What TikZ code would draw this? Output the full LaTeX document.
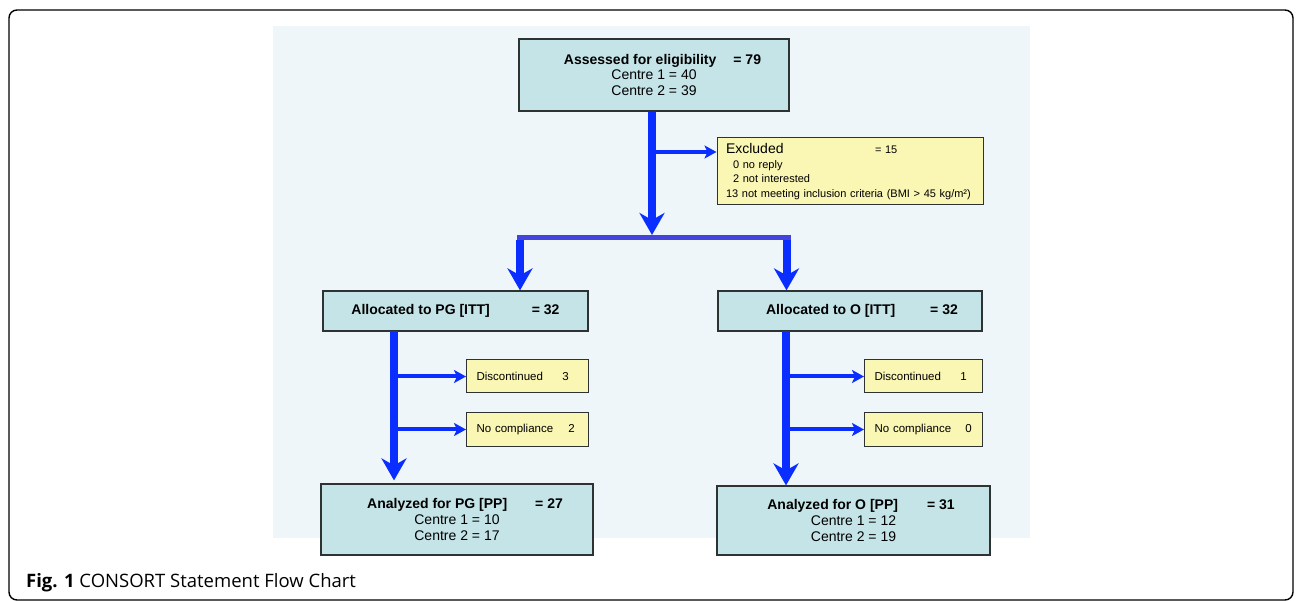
\documentclass[tikz,border=0pt]{standalone}
\usepackage{fontspec}
\setmainfont{Liberation Sans}
\newfontfamily\captionfont{Open Sans}
\usetikzlibrary{arrows.meta}
\definecolor{boxteal}{RGB}{197,228,232}
\definecolor{boxyellow}{RGB}{250,246,180}
\definecolor{boxline}{RGB}{45,50,50}
\definecolor{panelblue}{RGB}{239,246,249}
\definecolor{flowblue}{RGB}{10,46,255}
\definecolor{barblue}{RGB}{68,68,221}
\begin{document}
\begin{tikzpicture}
[x=1pt,y=-1pt,
 tealbox/.style={shape=rectangle,draw=boxline,line width=1.2pt,fill=boxteal,inner sep=0pt,align=center,font=\fontsize{14}{16}\selectfont},%
 notebox/.style={shape=rectangle,draw=boxline,line width=1pt,fill=boxyellow,inner ysep=0pt,inner xsep=10pt,align=left,font=\fontsize{11.5}{13}\selectfont},%
 mainline/.style={draw=flowblue,line width=8pt,-{Stealth[length=22pt,width=25pt,inset=7pt]}},%
 sideline/.style={draw=flowblue,line width=4pt,-{Stealth[length=12pt,width=13pt,inset=3pt]}}]
\useasboundingbox (0,0) rectangle (1296,601);
%% frame and panel
\draw[line width=1.4pt,rounded corners=8pt] (9,10) rectangle (1293,600);
\fill[panelblue] (273,26) rectangle (1030,538);
%% main boxes
\node (assess) at (654,75) [tealbox,minimum width=270pt,minimum height=72pt]
 {\hspace*{17pt}\textbf{Assessed for eligibility\hspace{17pt}= 79}\\Centre 1 = 40\\Centre 2 = 39};
\node (excl) at (850,171.5) [notebox,inner xsep=9pt,text width=248pt,minimum height=67pt,font=\fontsize{11}{14.5}\selectfont]
 {\makebox[149pt][l]{\fontsize{14}{16}\selectfont Excluded}= 15\\
  \hspace*{7pt}0 no reply\\
  \hspace*{7pt}2 not interested\\
  \makebox[248pt][l]{13 not meeting inclusion criteria (BMI > 45 kg/m²)}};
\node (allocPG) at (455.5,311) [tealbox,minimum width=265pt,minimum height=40pt]
 {\textbf{Allocated to PG [ITT]\hspace{42pt}= 32}};
\node (allocO) at (850,311) [tealbox,minimum width=264pt,minimum height=40pt]
 {\hspace*{24pt}\textbf{Allocated to O [ITT]\hspace{35pt}= 32}};
\node (anaPG) at (457,519.5) [tealbox,minimum width=272pt,minimum height=71pt]
 {\hspace*{16pt}\textbf{Analyzed for PG [PP]\hspace{28pt}= 27}\\Centre 1 = 10\\Centre 2 = 17};
\node (anaO) at (853.5,520.5) [tealbox,minimum width=273pt,minimum height=69pt]
 {\hspace*{15pt}\textbf{Analyzed for O [PP]\hspace{29pt}= 31}\\Centre 1 = 12\\Centre 2 = 19};
%% side boxes
\foreach \nodename/\x/\y/\w/\gap/\txt/\num in {discPG/466/376.5/122/86/Discontinued/3,
 noncPG/466/429.5/122/92/No compliance/2, discO/864/376.5/118/86/Discontinued/1,
 noncO/864/429.5/118/91/No compliance/0}
{
  \node (\nodename) at (\x,\y) [notebox,anchor=west,text width=\w pt-20pt,minimum height=33pt] {\makebox[\gap pt][l]{\txt}\num};
}
%% split
\coordinate (barM) at (652,235);
\coordinate (barL) at (517,237.5);
\coordinate (barR) at (791,237.5);
\coordinate (splitL) at (520,240);
\coordinate (splitR) at (786.5,240);
\coordinate (exclIn) at (652,152);
\coordinate (pgTrunk) at (394,331);
\coordinate (oTrunk) at (786,331);
\draw[mainline] (assess.south -| barM) -- (barM);
\draw[barblue,line width=5pt] (barL) -- (barR);
\draw[sideline] (exclIn) -- (excl.west |- exclIn);
\draw[mainline] (splitL) -- (splitL |- allocPG.north);
\draw[mainline] (splitR) -- (splitR |- allocO.north);
%% arms
\draw[mainline] (pgTrunk) -- ([yshift=3pt]pgTrunk |- anaPG.north);
\draw[mainline] (oTrunk) -- (oTrunk |- anaO.north);
\path
\foreach \trunk/\endnode in {pgTrunk/discPG, pgTrunk/noncPG, oTrunk/discO, oTrunk/noncO}
{
  (\trunk |- \endnode.west) edge[sideline] (\endnode.west)
};
%% caption
\node (caption) at (26,587) [anchor=base west,inner sep=0pt,font=\captionfont\fontsize{18.5}{22}\selectfont]
 {\textbf{Fig. 1} CONSORT Statement Flow Chart};
\end{tikzpicture}
\end{document}
